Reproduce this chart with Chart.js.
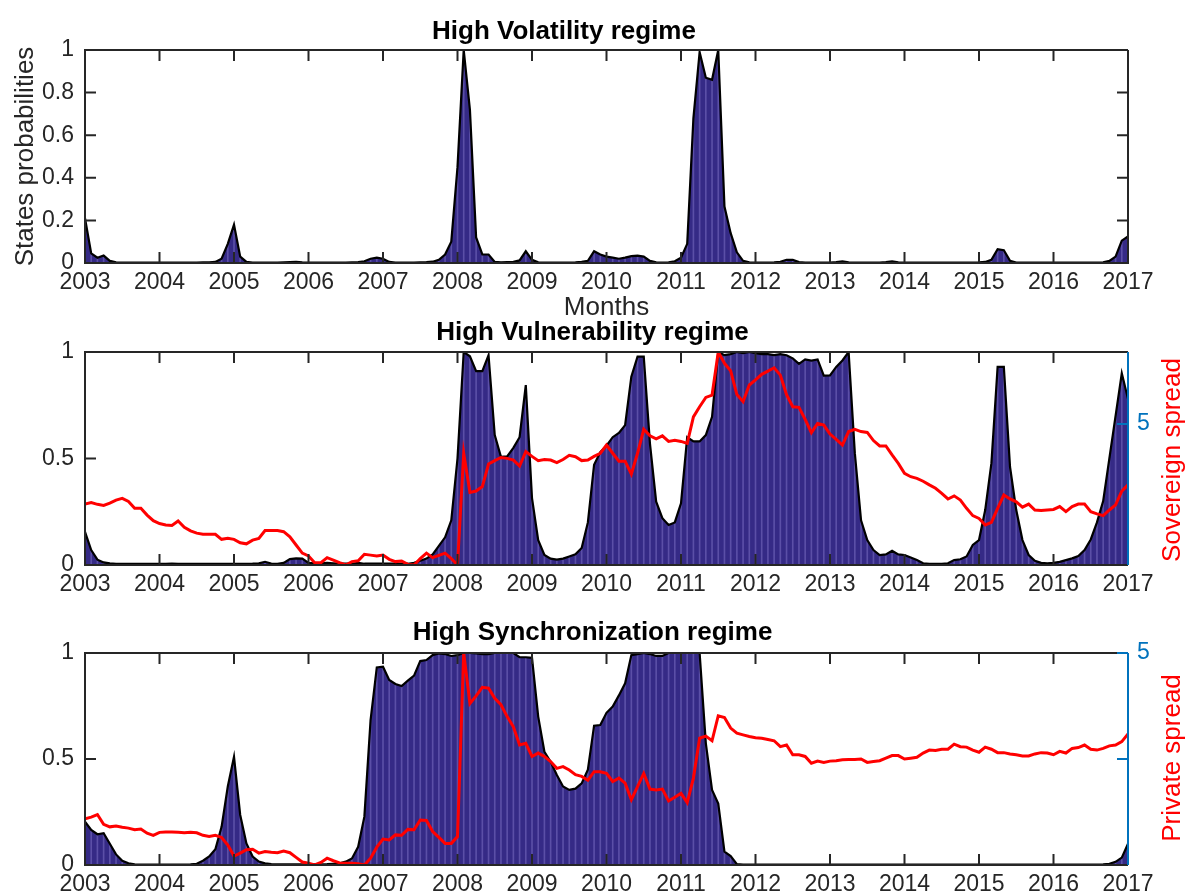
<!DOCTYPE html>
<html><head><meta charset="utf-8">
<script src="https://cdn.jsdelivr.net/npm/chart.js@4.4.1/dist/chart.umd.min.js"></script>
<style>
html,body{margin:0;padding:0;background:#fff;}
#wrap{position:relative;width:1185px;height:895px;overflow:hidden;background:#fff;}
canvas{position:absolute;left:0;}
</style></head><body>
<div id="wrap">
<canvas id="c1" width="1185" height="323" style="top:0px"></canvas>
<canvas id="c2" width="1185" height="300" style="top:300px"></canvas>
<canvas id="c3" width="1185" height="295" style="top:600px"></canvas>
</div>
<script>
// ---------- categories ----------
const startYear = 2003;
const nMonths = 169; // Jan 2003 .. Jan 2017
const months = Array.from({length: nMonths}, (_, i) => startYear + i / 12);
const yearTicks = [2003,2004,2005,2006,2007,2008,2009,2010,2011,2012,2013,2014,2015,2016,2017];
const probTicksTop = [0, 0.2, 0.4, 0.6, 0.8, 1];
const probTicks = [0, 0.5, 1];
const sovereignTicks = [5];
const privateTicks = [2.5, 5];
const privateTickLabels = {5: '5'};

// ---------- series ----------
const volatility = [
 0.21,0.045,0.025,0.035,0.01,0.003,0.002,0.002,0.002,0.002,
 0.002,0.002,0.002,0.002,0.002,0.002,0.002,0.002,0.002,0.003,
 0.003,0.005,0.02,0.09,0.18,0.03,0.005,0.002,0.002,0.002,
 0.002,0.002,0.003,0.004,0.005,0.003,0.002,0.002,0.002,0.002,
 0.002,0.002,0.002,0.003,0.004,0.008,0.02,0.025,0.02,0.005,
 0.002,0.002,0.002,0.002,0.003,0.004,0.006,0.015,0.04,0.1,
 0.45,1.0,0.72,0.12,0.04,0.04,0.005,0.003,0.004,0.005,
 0.012,0.055,0.015,0.003,0.002,0.002,0.002,0.002,0.002,0.003,
 0.005,0.01,0.055,0.04,0.03,0.025,0.02,0.025,0.032,0.035,
 0.03,0.01,0.003,0.002,0.003,0.008,0.025,0.09,0.68,0.99,
 0.87,0.86,1.0,0.265,0.14,0.05,0.01,0.003,0.002,0.002,
 0.002,0.003,0.006,0.015,0.015,0.004,0.002,0.002,0.002,0.002,
 0.002,0.004,0.008,0.003,0.002,0.002,0.002,0.002,0.002,0.004,
 0.008,0.003,0.002,0.002,0.002,0.002,0.002,0.002,0.002,0.002,
 0.002,0.002,0.002,0.002,0.003,0.005,0.015,0.065,0.06,0.01,
 0.002,0.002,0.002,0.002,0.002,0.002,0.002,0.002,0.002,0.002,
 0.002,0.002,0.002,0.002,0.003,0.01,0.03,0.105,0.125];

const vulnerability = [
 0.156,0.07,0.025,0.012,0.008,0.005,0.005,0.005,0.005,0.005,
 0.005,0.005,0.005,0.005,0.006,0.005,0.005,0.005,0.005,0.005,
 0.005,0.005,0.005,0.005,0.005,0.005,0.005,0.006,0.008,0.015,
 0.007,0.005,0.01,0.028,0.031,0.03,0.01,0.008,0.008,0.01,
 0.008,0.006,0.006,0.006,0.01,0.006,0.006,0.006,0.006,0.006,
 0.006,0.006,0.006,0.01,0.02,0.03,0.05,0.09,0.13,0.21,
 0.5,1.0,0.98,0.91,0.91,0.985,0.61,0.508,0.51,0.55,
 0.60,0.845,0.314,0.117,0.047,0.03,0.025,0.03,0.04,0.05,
 0.08,0.2,0.47,0.53,0.56,0.60,0.62,0.657,0.884,0.978,
 0.978,0.57,0.297,0.22,0.188,0.20,0.29,0.60,0.58,0.58,
 0.61,0.696,1.0,0.985,0.99,1.0,0.995,1.0,0.995,0.99,
 0.99,0.985,0.99,0.985,0.97,0.944,0.965,0.96,0.965,0.889,
 0.89,0.93,0.96,1.0,0.525,0.21,0.117,0.07,0.047,0.05,
 0.067,0.05,0.047,0.035,0.023,0.008,0.005,0.005,0.005,0.008,
 0.023,0.027,0.04,0.094,0.117,0.258,0.478,0.93,0.93,0.46,
 0.258,0.117,0.047,0.02,0.01,0.008,0.01,0.015,0.023,0.031,
 0.042,0.07,0.12,0.2,0.3,0.5,0.7,0.9,0.78];

const sovereignSpread = [
 2.16,2.21,2.15,2.11,2.19,2.30,2.36,2.25,2.01,2.01,
 1.77,1.57,1.47,1.42,1.40,1.56,1.34,1.21,1.13,1.09,
 1.09,1.09,0.91,0.95,0.91,0.79,0.75,0.88,0.94,1.22,
 1.22,1.22,1.18,1.00,0.71,0.42,0.32,0.08,0.08,0.26,
 0.17,0.08,0.00,0.12,0.15,0.38,0.35,0.32,0.35,0.20,
 0.12,0.14,0.02,0.00,0.23,0.42,0.26,0.34,0.42,0.23,
 0.00,3.96,2.57,2.62,2.78,3.58,3.70,3.81,3.78,3.72,
 3.51,4.02,3.85,3.70,3.74,3.72,3.63,3.74,3.89,3.84,
 3.70,3.72,3.85,3.96,4.25,3.96,3.68,3.68,3.22,3.96,
 4.81,4.58,4.47,4.58,4.38,4.42,4.38,4.31,5.25,5.61,
 5.94,6.02,7.55,7.15,6.88,6.04,5.79,6.38,6.56,6.76,
 6.87,6.99,6.73,6.04,5.61,5.59,5.16,4.69,5.02,4.96,
 4.64,4.45,4.25,4.73,4.81,4.73,4.70,4.41,4.22,4.22,
 3.90,3.60,3.25,3.13,3.07,2.97,2.84,2.72,2.54,2.34,
 2.45,2.30,2.01,1.75,1.65,1.42,1.51,2.01,2.48,2.34,
 2.24,2.05,2.16,1.95,1.93,1.95,1.97,2.07,1.89,2.07,
 2.16,2.16,1.89,1.81,1.75,1.95,2.13,2.62,2.84];

const synchronization = [
 0.204,0.165,0.145,0.15,0.1,0.05,0.02,0.008,0.003,0.002,
 0.002,0.002,0.002,0.002,0.002,0.002,0.002,0.003,0.006,0.02,
 0.04,0.074,0.18,0.37,0.51,0.236,0.102,0.04,0.016,0.008,
 0.004,0.003,0.003,0.003,0.003,0.003,0.003,0.003,0.003,0.004,
 0.006,0.008,0.016,0.031,0.086,0.228,0.684,0.932,0.935,0.873,
 0.854,0.844,0.87,0.893,0.962,0.967,0.99,0.998,0.995,0.986,
 0.99,1.0,1.0,0.998,0.995,0.995,1.0,1.0,1.0,1.0,
 0.98,0.98,0.977,0.70,0.534,0.487,0.425,0.37,0.354,0.36,
 0.385,0.45,0.657,0.66,0.718,0.747,0.80,0.857,0.99,0.995,
 1.0,0.995,0.986,0.986,1.0,1.0,1.0,1.0,1.0,1.0,
 0.574,0.354,0.29,0.063,0.042,0.004,0.002,0.002,0.002,0.002,
 0.002,0.002,0.002,0.002,0.002,0.002,0.002,0.002,0.002,0.002,
 0.002,0.002,0.002,0.002,0.002,0.002,0.002,0.002,0.002,0.002,
 0.002,0.002,0.002,0.002,0.002,0.002,0.002,0.002,0.002,0.002,
 0.002,0.002,0.002,0.002,0.002,0.002,0.002,0.002,0.002,0.002,
 0.002,0.002,0.002,0.002,0.002,0.002,0.002,0.002,0.002,0.002,
 0.002,0.002,0.002,0.002,0.003,0.006,0.015,0.035,0.1];

const privateSpread = [
 1.09,1.13,1.19,0.96,0.90,0.92,0.89,0.87,0.83,0.85,
 0.75,0.70,0.77,0.78,0.78,0.77,0.76,0.77,0.76,0.70,
 0.67,0.70,0.65,0.47,0.21,0.28,0.36,0.37,0.28,0.32,
 0.30,0.29,0.33,0.29,0.18,0.07,0.04,0.00,0.06,0.16,
 0.10,0.05,0.04,0.04,0.03,0.00,0.16,0.42,0.61,0.59,
 0.71,0.70,0.84,0.83,1.06,1.05,0.79,0.65,0.51,0.51,
 0.67,5.00,3.81,3.99,4.19,4.17,3.93,3.78,3.50,3.26,
 2.83,2.87,2.56,2.64,2.56,2.44,2.28,2.32,2.24,2.13,
 2.09,2.00,2.20,2.20,2.16,1.97,2.05,1.93,1.54,1.85,
 2.16,1.79,1.77,1.79,1.51,1.60,1.69,1.47,2.05,2.99,
 3.04,2.93,3.52,3.48,3.23,3.11,3.07,3.03,3.00,2.99,
 2.96,2.93,2.79,2.83,2.60,2.60,2.56,2.40,2.45,2.42,
 2.45,2.46,2.48,2.49,2.49,2.50,2.42,2.44,2.46,2.52,
 2.58,2.58,2.50,2.52,2.54,2.64,2.71,2.70,2.73,2.73,
 2.85,2.79,2.78,2.71,2.66,2.78,2.73,2.65,2.65,2.62,
 2.60,2.57,2.57,2.62,2.65,2.64,2.60,2.68,2.64,2.75,
 2.77,2.83,2.73,2.71,2.75,2.81,2.83,2.91,3.09];

// ---------- styling ----------
const FONT = "'Liberation Sans', Arial, Helvetica, sans-serif";
const AXIS_COLOR = '#262626';
const RIGHT_COLOR = '#0072BD';
const FILL_COLOR = '#352a86';
const STRIPE_COLOR = 'rgba(170,160,235,0.32)';
const TICK_LEN = 11;

const matlabAxes = {
  id: 'matlabAxes',
  afterDatasetsDraw(chart, args, opts) {
    const {ctx, chartArea: a, scales} = chart;
    ctx.save();
    ctx.lineWidth = 2;
    ctx.strokeStyle = AXIS_COLOR;
    ctx.beginPath();
    scales.x.ticks.forEach(t => {
      const px = scales.x.getPixelForValue(t.value);
      ctx.moveTo(px, a.bottom); ctx.lineTo(px, a.bottom - TICK_LEN);
      ctx.moveTo(px, a.top); ctx.lineTo(px, a.top + TICK_LEN);
    });
    scales.y.ticks.forEach(t => {
      const py = scales.y.getPixelForValue(t.value);
      ctx.moveTo(a.left, py); ctx.lineTo(a.left + TICK_LEN, py);
      if (!scales.y2) { ctx.moveTo(a.right, py); ctx.lineTo(a.right - TICK_LEN, py); }
    });
    ctx.stroke();
    ctx.beginPath();
    ctx.moveTo(a.right, a.top); ctx.lineTo(a.left, a.top);
    ctx.lineTo(a.left, a.bottom); ctx.lineTo(a.right, a.bottom);
    if (!scales.y2) ctx.lineTo(a.right, a.top);
    ctx.stroke();
    if (scales.y2) {
      ctx.strokeStyle = RIGHT_COLOR;
      ctx.beginPath();
      ctx.moveTo(a.right, a.top); ctx.lineTo(a.right, a.bottom);
      scales.y2.ticks.forEach(t => {
        const py = scales.y2.getPixelForValue(t.value);
        ctx.moveTo(a.right, py); ctx.lineTo(a.right - TICK_LEN, py);
      });
      ctx.stroke();
    }
    ctx.restore();
  }
};

const sideTitle = {
  id: 'sideTitle',
  afterDraw(chart, args, opts) {
    if (!opts || !opts.text) return;
    const {ctx} = chart;
    ctx.save();
    ctx.translate(opts.x, opts.y);
    ctx.rotate(-Math.PI / 2);
    ctx.font = opts.size + 'px ' + FONT;
    ctx.fillStyle = opts.color;
    ctx.textAlign = 'center';
    ctx.textBaseline = 'alphabetic';
    ctx.fillText(opts.text, 0, 0);
    ctx.restore();
  }
};

function pts(arr) { return arr.map((v, i) => ({x: months[i], y: v})); }

function makePanel(id, p) {
  const datasets = [];
  if (p.red) {
    datasets.push({type: 'line', data: pts(p.red), yAxisID: 'y2', borderColor: '#ff0000',
      borderWidth: 3, pointRadius: 0, tension: 0, fill: false, order: 0});
  }
  datasets.push({type: 'line', data: pts(p.area), yAxisID: 'y', borderColor: '#000000',
    borderWidth: 2.2, backgroundColor: FILL_COLOR, pointRadius: 0, tension: 0, fill: 'origin', order: 1});
  datasets.push({type: 'bar', data: pts(p.area), yAxisID: 'y', backgroundColor: STRIPE_COLOR,
    borderWidth: 0, barThickness: 1, grouped: false, order: 2});

  const scales = {
    x: {
      type: 'linear', min: 2003, max: 2017, offset: false,
      afterBuildTicks: s => { s.ticks = yearTicks.map(v => ({value: v})); },
      ticks: {autoSkip: false, maxRotation: 0, minRotation: 0, padding: 6, color: AXIS_COLOR,
        font: {family: FONT, size: 23}, callback: v => String(v)},
      grid: {display: false, drawTicks: false}, border: {display: false},
      title: p.xTitle ? {display: true, text: p.xTitle, color: AXIS_COLOR,
        font: {family: FONT, size: 26}, padding: {top: 0, bottom: 0}} : {display: false},
      afterFit: s => { s.height = p.xHeight; }
    },
    y: {
      position: 'left', min: 0, max: 1,
      afterBuildTicks: s => { s.ticks = p.leftTicks.map(v => ({value: v})); },
      ticks: {padding: 11, color: AXIS_COLOR, font: {family: FONT, size: 23}, callback: v => String(v)},
      grid: {display: false, drawTicks: false}, border: {display: false},
      title: p.yTitle ? {display: true, text: p.yTitle, color: AXIS_COLOR,
        font: {family: FONT, size: 26}, padding: {top: 10, bottom: 0}} : {display: false},
      afterFit: s => { s.width = 85; }
    }
  };
  if (p.red) {
    scales.y2 = {
      position: 'right', min: 0, max: p.redMax,
      afterBuildTicks: s => { s.ticks = p.rightTicks.map(v => ({value: v})); },
      ticks: {padding: 9, color: RIGHT_COLOR, font: {family: FONT, size: 23},
        callback: v => (p.rightLabels ? (p.rightLabels[v] || '') : String(v))},
      grid: {display: false, drawTicks: false}, border: {display: false},
      afterFit: s => { s.width = 57; }
    };
  }
  return new Chart(document.getElementById(id), {
    type: 'line',
    data: {datasets},
    options: {
      responsive: false, animation: false, events: [],
      layout: {padding: {left: 0, right: p.red ? 0 : 57, top: 0, bottom: 0}},
      scales,
      plugins: {
        legend: {display: false}, tooltip: {enabled: false},
        filler: {drawTime: 'beforeDatasetsDraw'},
        title: {display: true, text: p.title, color: '#000000',
          font: {family: FONT, size: 26, weight: 'bold'}, padding: p.titlePad},
        sideTitle: p.sideTitle || {}
      }
    },
    plugins: [matlabAxes, sideTitle]
  });
}

makePanel('c1', {
  title: 'High Volatility regime', titlePad: {top: 16, bottom: 2.8},
  area: volatility, leftTicks: probTicksTop, yTitle: 'States probabilities',
  xTitle: 'Months', xHeight: 60
});
makePanel('c2', {
  title: 'High Vulnerability regime', titlePad: {top: 17.7, bottom: 3.1},
  area: vulnerability, leftTicks: probTicks, xHeight: 35,
  red: sovereignSpread, redMax: 7.55, rightTicks: sovereignTicks,
  sideTitle: {text: 'Sovereign spread', x: 1180, y: 160, size: 26, color: '#ff0000'}
});
makePanel('c3', {
  title: 'High Synchronization regime', titlePad: {top: 17.7, bottom: 4.1},
  area: synchronization, leftTicks: probTicks, xHeight: 30,
  red: privateSpread, redMax: 5, rightTicks: privateTicks, rightLabels: privateTickLabels,
  sideTitle: {text: 'Private spread', x: 1180, y: 158, size: 26, color: '#ff0000'}
});
</script>
</body></html>
